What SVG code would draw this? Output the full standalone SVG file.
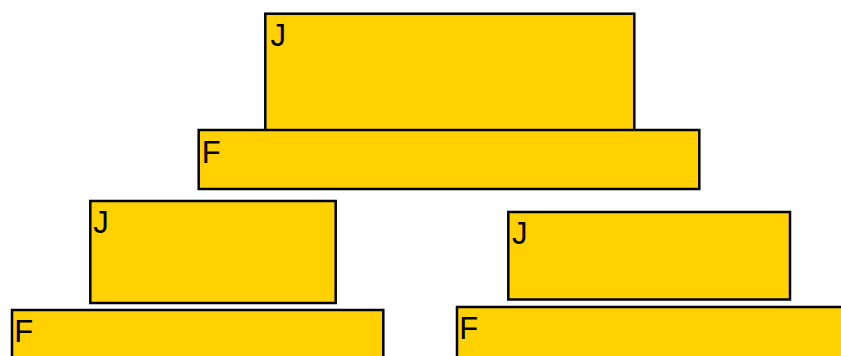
<svg xmlns="http://www.w3.org/2000/svg" width="841" height="356" viewBox="0 0 841 356">
<style>
.box{fill:#ffd100;stroke:#000;stroke-width:2.5}
.lbl{font-family:"Liberation Sans",Arial,sans-serif;font-size:31px;fill:#000}
</style>
<rect x="0" y="0" width="841" height="356" fill="#fff"/>
<g id="connectors"></g>
<g id="j1"><rect class="box" x="265.3" y="13.7" width="369" height="120"/><text class="lbl" x="270.5" y="45.5">J</text></g>
<g id="f1"><rect class="box" x="198.7" y="130" width="500.6" height="59"/><text class="lbl" x="201.8" y="163">F</text></g>
<g id="j2"><rect class="box" x="90.3" y="201" width="245.4" height="102"/><text class="lbl" x="93.3" y="233">J</text></g>
<g id="f2"><rect class="box" x="12" y="310" width="371.3" height="60"/><text class="lbl" x="14.2" y="341.5">F</text></g>
<g id="j3"><rect class="box" x="508.3" y="212" width="281.7" height="87.5"/><text class="lbl" x="512" y="244">J</text></g>
<g id="f3"><rect class="box" x="457" y="307" width="400" height="60"/><text class="lbl" x="459.2" y="338.5">F</text></g>
</svg>
